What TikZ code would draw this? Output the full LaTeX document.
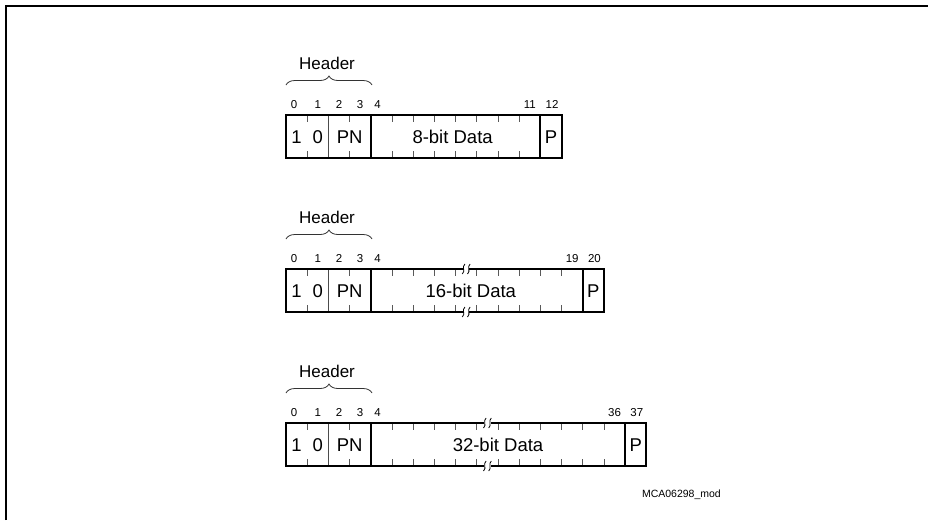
\documentclass[tikz,border=0pt]{standalone}
\usepackage{fontspec}
\setmainfont{Liberation Sans}
\usetikzlibrary{decorations.pathreplacing}
\tikzset{
  frameline/.style={line width=1.6pt},
  outline/.style={line width=2pt},
  thindiv/.style={line width=0.9pt, black!70},
  tickline/.style={line width=0.8pt, black!65},
  bracestyle/.style={decorate, decoration={brace, amplitude=9pt}, line width=0.8pt, black!80},
  boxtext/.style={font=\fontsize{18.5}{20}\selectfont, inner sep=0pt},
  headtext/.style={font=\fontsize{17}{19}\selectfont, inner sep=0pt},
  bittext/.style={font=\fontsize{11.5}{13}\selectfont, inner sep=0pt},
  idtext/.style={font=\fontsize{10.5}{12}\selectfont, inner sep=0pt},
  breakmark/.style={line width=0.8pt},
}
% #1 top y, #2 data cells, #3 break x, #4 id, #5 data text, #6 last data bit, #7 parity bit, #8 data text x shift
\newcommand{\regdiag}[8]{%
  \pgfmathsetmacro{\T}{#1}%
  \pgfmathsetmacro{\B}{#1+43}%
  \pgfmathsetmacro{\M}{#1+22}%
  \pgfmathsetmacro{\R}{370.8+#2*21.2}%
  \pgfmathsetmacro{\E}{\R+21.2}%
  \pgfmathtruncatemacro{\NM}{#2-1}%
  % header label and brace
  \node[headtext] (hd#4) at (327,\T-51.5) {Header};
  \coordinate (bl#4) at (286,\T-30);
  \coordinate (br#4) at (372,\T-30);
  \draw[bracestyle] (bl#4) -- (br#4);
  % bit numbers
  \node[bittext] (n0#4) at (294,\T-10.5) {0};
  \node[bittext] (n1#4) at (317.8,\T-10.5) {1};
  \node[bittext] (n2#4) at (339,\T-10.5) {2};
  \node[bittext] (n3#4) at (360,\T-10.5) {3};
  \node[bittext] (n4#4) at (377.5,\T-10.5) {4};
  \node[bittext] (nl#4) at (\R-10.6,\T-10.5) {#6};
  \node[bittext] (np#4) at (\R+11.6,\T-10.5) {#7};
  % ticks
  \foreach \i in {1,3} {
    \draw[tickline] (286+\i*21.2,\T) -- ++(0,7);
    \draw[tickline] (286+\i*21.2,\B) -- ++(0,-7);
  }
  \foreach \i in {1,...,\NM} {
    \draw[tickline] (370.8+\i*21.2,\T) -- ++(0,7);
    \draw[tickline] (370.8+\i*21.2,\B) -- ++(0,-7);
  }
  % thin divider between 1 0 and PN
  \draw[thindiv] (328.4,\T) -- (328.4,\B);
  % outline and thick dividers
  \draw[outline] (286,\T) rectangle (\E,\B);
  \draw[outline] (370.8,\T) -- (370.8,\B);
  \draw[outline] (\R,\T) -- (\R,\B);
  % break marks
  \ifx&#3&\else
    \fill[white] (#3-3.2,\T-1.6) rectangle (#3+3.2,\T+1.6);
    \fill[white] (#3-3.2,\B-1.6) rectangle (#3+3.2,\B+1.6);
    \foreach \yy in {\T,\B} {
      \foreach \dx in {-2.6,2.6} {
        \draw[breakmark] (#3+\dx-1.3,\yy+5) .. controls (#3+\dx+2.2,\yy+2) and (#3+\dx-2.2,\yy-2) .. (#3+\dx+1.3,\yy-5);
      }
    }
  \fi
  % texts
  \node[boxtext] (one#4) at (296.6,\M) {1};
  \node[boxtext] (zero#4) at (317.8,\M) {0};
  \node[boxtext] (pn#4) at (349.6,\M) {PN};
  \node[boxtext] (data#4) at ({(370.8+\R)/2+#8},\M) {#5};
  \node[boxtext] (par#4) at (\R+10.6,\M) {P};
}
\begin{document}
\begin{tikzpicture}[x=1pt,y=-1pt]
\useasboundingbox (0,0) rectangle (928,520);
\coordinate (fa) at (6,520);
\coordinate (fb) at (6,6);
\coordinate (fc) at (928,6);
\draw[frameline] (fa) -- (fb) -- (fc);

\regdiag{115}{8}{}{A}{8-bit Data}{11}{12}{-3}
\regdiag{269}{10}{466.2}{B}{16-bit Data}{19}{20}{-6}
\regdiag{423}{12}{487.4}{C}{32-bit Data}{36}{37}{0}

\node[idtext, anchor=east] (id) at (721,495) {MCA06298\_mod};
\end{tikzpicture}
\end{document}
